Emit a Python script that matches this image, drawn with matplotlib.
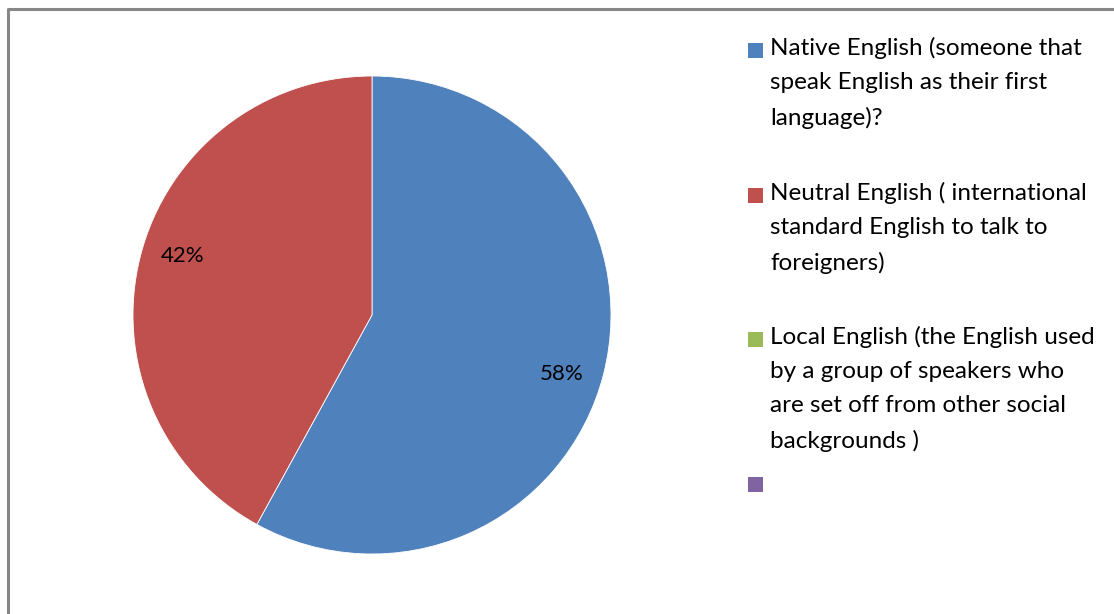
import numpy as np
import matplotlib.pyplot as plt
from matplotlib.patches import Rectangle
from matplotlib.lines import Line2D

categories = [
    "Native English (someone that\nspeak English as their first\nlanguage)?",
    "Neutral English ( international\nstandard English to talk to\nforeigners)",
    "Local English (the English used\nby a group of speakers who\nare set off from other social\nbackgrounds )",
    "",
]
shares = [58, 42, 0, 0]
colors = ["#4F81BD", "#C0504D", "#9BBB59", "#8064A2"]

plt.rcParams['font.family'] = ['Lato', 'DejaVu Sans']

W, H = 1114, 614
fig = plt.figure(figsize=(W / 100, H / 100), dpi=100)
fig.patch.set_facecolor("white")

# chart frame (only top and left edges fall inside the image)
fig.add_artist(Line2D([7.5 / W, 7.5 / W, 1.0], [0.0, 1 - 8.5 / H, 1 - 8.5 / H],
                      transform=fig.transFigure, color="#878787", lw=2.2))

# pie
cx, cy, r = 372, 315, 239
ax = fig.add_axes([(cx - r) / W, (H - cy - r) / H, 2 * r / W, 2 * r / H])
nz = [(s, c) for s, c in zip(shares, colors) if s > 0]
wedges, texts, autotexts = ax.pie(
    [s for s, _ in nz], colors=[c for _, c in nz], startangle=90, counterclock=False,
    radius=1, autopct=lambda p: f"{p:.0f}%", pctdistance=0.83,
    wedgeprops=dict(linewidth=0.6, edgecolor="white"),
    textprops=dict(fontsize=16, color="black"))
# nudge the percentage labels a little clockwise
rot = np.deg2rad(-3)
for t in autotexts:
    x, y = t.get_position()
    t.set_position((x * np.cos(rot) - y * np.sin(rot), x * np.sin(rot) + y * np.cos(rot)))
ax.set_xlim(-1, 1)
ax.set_ylim(-1, 1)
ax.set_aspect("equal")
ax.axis("off")

# legend entries
entry_top = [43, 188, 332, 477]
for label, col, y in zip(categories, colors, entry_top):
    fig.add_artist(Rectangle((748 / W, 1 - (y + 14.5) / H), 14.5 / W, 14.5 / H,
                             transform=fig.transFigure, facecolor=col, edgecolor="none"))
    fig.text(770 / W, 1 - (y - 6.5) / H, label, ha="left", va="top",
             fontsize=17.5, color="black", linespacing=1.78)

fig.savefig("out.png", dpi=100)
